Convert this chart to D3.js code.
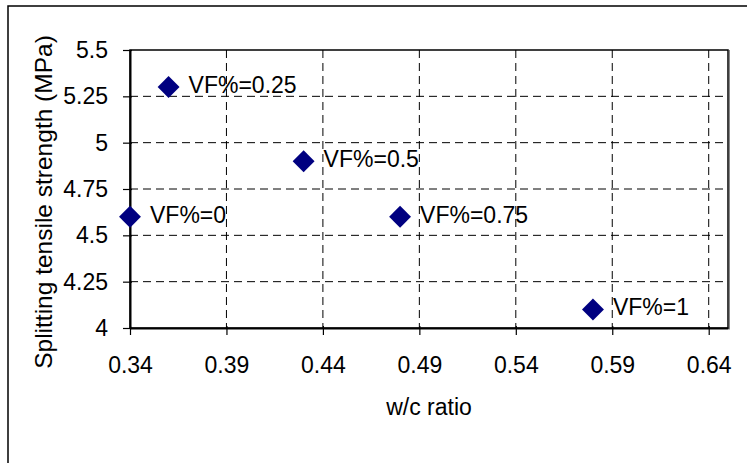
<!DOCTYPE html>
<html><head><meta charset="utf-8">
<script src="https://cdn.jsdelivr.net/npm/d3@7"></script>
<style>body{margin:0;background:#fff}svg{display:block}text{font-family:"Liberation Sans",Arial,sans-serif;fill:#000}</style>
</head><body><svg id="c" width="747" height="463"></svg>
<script>
const wc = [0.34, 0.36, 0.43, 0.48, 0.58];
const strength = [4.6, 5.3, 4.9, 4.6, 4.1];
const labels = ["VF%=0", "VF%=0.25", "VF%=0.5", "VF%=0.75", "VF%=1"];
const xTicks = [0.34, 0.39, 0.44, 0.49, 0.54, 0.59, 0.64];
const yTicks = [4, 4.25, 4.5, 4.75, 5, 5.25, 5.5];
const yTickLabels = ["4", "4.25", "4.5", "4.75", "5", "5.25", "5.5"];

const svg = d3.select("#c");
const L = 130, R = 728, T = 50, B = 328;
const x = d3.scaleLinear().domain([0.34, 0.65]).range([L, R]);
const y = d3.scaleLinear().domain([4, 5.5]).range([B, T]);
const FS = 23;

// outer frame
svg.append("rect").attr("x", 8).attr("y", 6).attr("width", 800).attr("height", 600)
  .attr("fill", "none").attr("stroke", "#000").attr("stroke-width", 1.5);

// grid
const g = svg.append("g");
g.selectAll("line.vx").data(xTicks.filter(d => d > 0.34)).join("line")
  .attr("x1", d => x(d)).attr("x2", d => x(d)).attr("y1", T).attr("y2", B)
  .attr("stroke", "#000").attr("stroke-width", 1).attr("stroke-dasharray", "8,5");
g.selectAll("line.hy").data(yTicks.filter(d => d > 4 && d < 5.5)).join("line")
  .attr("x1", L).attr("x2", R).attr("y1", d => y(d)).attr("y2", d => y(d))
  .attr("stroke", "#000").attr("stroke-width", 1).attr("stroke-dasharray", "8,5");

// plot border
svg.append("rect").attr("x", L).attr("y", T).attr("width", R - L).attr("height", B - T)
  .attr("fill", "none").attr("stroke", "#000").attr("stroke-width", 1.5);
svg.append("line").attr("x1", R + 1.5).attr("x2", R + 1.5).attr("y1", T).attr("y2", B + 1.5)
  .attr("stroke", "#888").attr("stroke-width", 1);

// axes
const xAxis = d3.axisBottom(x).tickValues(xTicks).tickFormat(d3.format(".2f")).tickSize(7).tickSizeOuter(0).tickPadding(21.5);
const xg = svg.append("g").attr("transform", `translate(0,${B})`).call(xAxis);
xg.select(".domain").attr("stroke-width", 2);
xg.selectAll(".tick line").attr("y1", -2).attr("stroke-width", 1.2);
xg.selectAll("text").attr("font-size", FS).attr("font-family", '"Liberation Sans",Arial,sans-serif');

const yAxis = d3.axisLeft(y).tickValues(yTicks).tickFormat((d, i) => yTickLabels[i]).tickSize(7).tickSizeOuter(0).tickPadding(15);
const yg = svg.append("g").attr("transform", `translate(${L},0)`).call(yAxis);
yg.select(".domain").attr("stroke-width", 2);
yg.selectAll(".tick line").attr("x1", 2).attr("stroke-width", 1.2);
yg.selectAll("text").attr("font-size", FS).attr("font-family", '"Liberation Sans",Arial,sans-serif');

// titles
svg.append("text").attr("x", (L + R) / 2).attr("y", 415).attr("text-anchor", "middle")
  .attr("font-size", FS).text("w/c ratio");
svg.append("text").attr("transform", "translate(52,202) rotate(-90)").attr("text-anchor", "middle")
  .attr("font-size", 24.5).text("Splitting tensile strength (MPa)");

// points
const sym = d3.symbol().type(d3.symbolSquare).size(240);
const data = wc.map((d, i) => ({ x: d, y: strength[i], l: labels[i] }));
svg.selectAll("path.pt").data(data).join("path")
  .attr("d", sym).attr("fill", "#000080")
  .attr("transform", d => `translate(${x(d.x)},${y(d.y)}) rotate(45)`);
svg.selectAll("text.lb").data(data).join("text")
  .attr("x", d => x(d.x) + 20).attr("y", d => y(d.y) + 6)
  .attr("font-size", FS).text(d => d.l);
</script></body></html>
